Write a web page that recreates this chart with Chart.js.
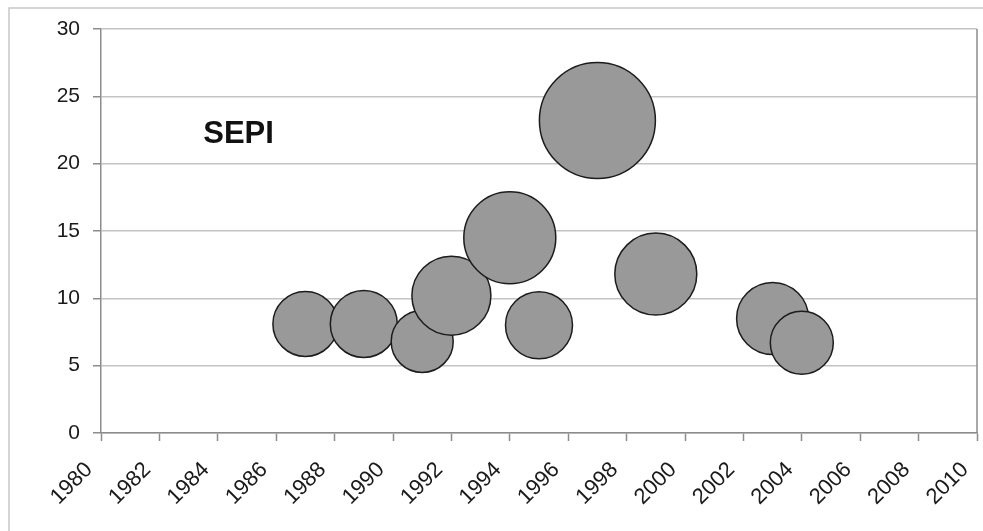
<!DOCTYPE html>
<html>
<head>
<meta charset="utf-8">
<script src="https://cdn.jsdelivr.net/npm/chart.js@4/dist/chart.umd.min.js"></script>
<style>
  html, body { margin: 0; padding: 0; background: #ffffff; }
  #wrap { width: 983px; height: 531px; }
</style>
</head>
<body>
<div id="wrap"><canvas id="c" width="983" height="531"></canvas></div>
<script>
// ---- data ----
const years      = [1987, 1989, 1991, 1992, 1994, 1995, 1997, 1999, 2003, 2004];
const values     = [8.1, 8.1, 6.8, 10.2, 14.5, 8.0, 23.2, 11.8, 8.5, 6.7];
const bubbleSize = [32.5, 33.5, 31, 39.5, 46, 33.5, 58, 41, 36, 31.5];
const xTickLabels = ['1980','1982','1984','1986','1988','1990','1992','1994','1996','1998','2000','2002','2004','2006','2008','2010'];
const yTickLabels = ['0','5','10','15','20','25','30'];
const seriesLabel = 'SEPI';

const points = years.map((y, i) => ({ x: y, y: values[i], r: bubbleSize[i] }));

const FONT = '"Liberation Sans", Arial, Helvetica, sans-serif';

function zeroPad(scale) {
  scale.paddingTop = 0;
  scale.paddingBottom = 0;
  scale.paddingLeft = 0;
  scale.paddingRight = 0;
}

const decor = {
  id: 'decor',
  beforeDraw(chart) {
    const ctx = chart.ctx;
    ctx.save();
    ctx.fillStyle = '#ffffff';
    ctx.fillRect(0, 0, chart.width, chart.height);
    // outer frame
    ctx.strokeStyle = '#c8c8c8';
    ctx.lineWidth = 1.5;
    ctx.beginPath();
    ctx.moveTo(9, chart.height + 5);
    ctx.lineTo(9, 8);
    ctx.lineTo(chart.width + 5, 8);
    ctx.stroke();
    ctx.restore();
  },
  afterDatasetsDraw(chart) {
    const ctx = chart.ctx;
    const a = chart.chartArea;
    ctx.save();
    // right border of plot area
    ctx.strokeStyle = '#8c8c8c';
    ctx.lineWidth = 1.5;
    ctx.beginPath();
    ctx.moveTo(a.right, a.top);
    ctx.lineTo(a.right, a.bottom);
    ctx.stroke();
    // series label
    const xs = chart.scales.x, ys = chart.scales.y;
    ctx.fillStyle = '#111111';
    ctx.font = 'bold 31px ' + FONT;
    ctx.textAlign = 'left';
    ctx.textBaseline = 'alphabetic';
    ctx.fillText(seriesLabel, xs.getPixelForValue(1983.5), ys.getPixelForValue(21.5));
    ctx.restore();
  }
};

new Chart(document.getElementById('c'), {
  type: 'bubble',
  data: {
    datasets: [{
      label: seriesLabel,
      data: points,
      backgroundColor: '#999999',
      borderColor: '#1c1c1c',
      borderWidth: 1.5,
      hoverRadius: 0
    }]
  },
  options: {
    responsive: false,
    devicePixelRatio: 1,
    animation: false,
    events: [],
    layout: { autoPadding: false, padding: { top: 29, right: 6, left: 0, bottom: 0 } },
    plugins: {
      legend: { display: false },
      tooltip: { enabled: false },
      title: { display: false }
    },
    scales: {
      x: {
        type: 'linear',
        min: 1980,
        max: 2010,
        afterFit(scale) { scale.height = 98; zeroPad(scale); },
        afterBuildTicks(scale) {
          scale.ticks = xTickLabels.map(v => ({ value: Number(v) }));
        },
        ticks: {
          callback: (v) => String(v),
          minRotation: 45,
          maxRotation: 45,
          autoSkip: false,
          padding: 16,
          labelOffset: -12,
          color: '#1a1a1a',
          font: { family: FONT, size: 22 }
        },
        grid: {
          drawOnChartArea: false,
          drawTicks: true,
          tickLength: 8,
          tickColor: '#8c8c8c',
          tickWidth: 1.5
        },
        border: { color: '#8c8c8c', width: 1.5 }
      },
      y: {
        type: 'linear',
        min: 0,
        max: 30,
        afterFit(scale) { scale.width = 101; zeroPad(scale); },
        afterBuildTicks(scale) {
          scale.ticks = yTickLabels.map(v => ({ value: Number(v) }));
        },
        ticks: {
          callback: (v) => String(v),
          padding: 13,
          color: '#1a1a1a',
          font: { family: FONT, size: 21 }
        },
        grid: {
          color: '#c4c4c4',
          lineWidth: 1.5,
          drawTicks: true,
          tickLength: 8,
          tickColor: '#8c8c8c',
          tickWidth: 1.5
        },
        border: { color: '#8c8c8c', width: 1.5 }
      }
    }
  },
  plugins: [decor]
});
</script>
</body>
</html>
